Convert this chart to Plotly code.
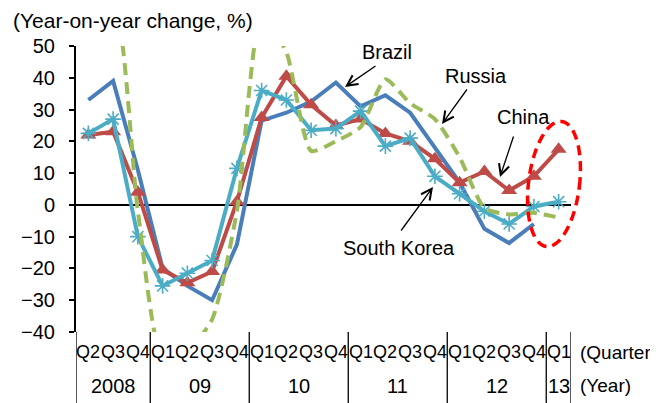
import math
import plotly.graph_objects as go

# ---------------- data ----------------
quarters = ["Q2", "Q3", "Q4",
            "Q1", "Q2", "Q3", "Q4",
            "Q1", "Q2", "Q3", "Q4",
            "Q1", "Q2", "Q3", "Q4",
            "Q1", "Q2", "Q3", "Q4",
            "Q1"]
year_labels = ["2008", "09", "10", "11", "12", "13"]
year_centers = [1, 4.5, 8.5, 12.5, 16.5, 19]
year_dividers = [-0.5, 2.5, 6.5, 10.5, 14.5, 18.5, 19.5]

brazil = [33, 39, 11, -20, -25.5, -30, -12.5, 26.5, 29, 32.5, 38.5,
          31, 34.5, 29, 18, 7, -7.5, -12, -6, None]
china = [22, 23, 4, -20.5, -24.5, -21, 1, 27.5, 40.5, 31.5, 25,
         27, 22.5, 20, 14.5, 7, 10.5, 4.5, 9, 17.5]
south_korea = [22.5, 27, -10, -25.5, -21.5, -17.5, 11.5, 36, 33, 23.5, 24,
               29.5, 18.5, 21, 9, 3.5, -2, -6, -0.5, 1]
russia = [58, 64, -2, -48, -46, -36, -2, 60, 48, 17, 20,
          24.5, 39.5, 32, 27, 15, -1, -3, -2.5, -4]

y_ticks = [-40, -30, -20, -10, 0, 10, 20, 30, 40, 50]

xs = list(range(len(quarters)))
FONT = "Liberation Sans, Arial, sans-serif"

fig = go.Figure()
fig.add_trace(go.Scatter(x=xs, y=brazil, mode="lines", name="Brazil",
                         line=dict(color="#4A7EBB", width=4)))
fig.add_trace(go.Scatter(x=xs, y=china, mode="lines+markers", name="China",
                         line=dict(color="#BE4B48", width=4),
                         marker=dict(symbol="triangle-up", size=14, color="#BE4B48")))
fig.add_trace(go.Scatter(x=xs, y=south_korea, mode="lines+markers", name="South Korea",
                         line=dict(color="#4BACC6", width=4),
                         marker=dict(symbol="asterisk-open", size=13,
                                     line=dict(color="#4BACC6", width=1.6))))
fig.add_trace(go.Scatter(x=xs, y=russia, mode="lines", name="Russia",
                         line=dict(color="#9BBB59", width=4, dash="12px,7px",
                                   shape="spline", smoothing=0.6)))

# The page body adds an 8px offset; compensate so the figure lands at the
# same window positions as the reference.
OFF = 8
W, H = 658 - OFF, 403 - OFF
L, R, T, B = 76 - OFF, 87, 46 - OFF, 71
PW, PH = W - L - R, H - T - B


def px(xp):  # reference window pixel -> paper x
    return (xp - OFF - L) / PW


def py(yp):  # reference window pixel -> paper y
    return 1 - (yp - OFF - T) / PH


shapes = []
for d in year_dividers:
    shapes.append(dict(type="line", xref="x", yref="paper", x0=d, x1=d,
                       y0=0, y1=-0.3, line=dict(color="black", width=1.3)))

# dashed red ellipse around latest quarter
cx, cy, a, b, th = 554, 184, 63, 25.5, math.radians(7)
pts = []
for i in range(73):
    t = 2 * math.pi * i / 72
    u, v = b * math.cos(t), a * math.sin(t)
    X = cx + u * math.cos(th) + v * math.sin(th)
    Y = cy + u * math.sin(th) - v * math.cos(th)
    pts.append((px(X), py(Y)))
path = "M " + " L ".join(f"{p[0]:.4f},{p[1]:.4f}" for p in pts) + " Z"
shapes.append(dict(type="path", xref="paper", yref="paper", path=path,
                   line=dict(color="#FF0000", width=3.5, dash="10px,6px")))

annotations = []
for x, q in zip(xs, quarters):
    annotations.append(dict(x=x, y=py(352), xref="x", yref="paper", text=q,
                            showarrow=False, font=dict(size=18, color="black", family=FONT),
                            xanchor="center", yanchor="middle"))
for x, yl in zip(year_centers, year_labels):
    annotations.append(dict(x=x, y=py(386), xref="x", yref="paper", text=yl,
                            showarrow=False, font=dict(size=20, color="black", family=FONT),
                            xanchor="center", yanchor="middle"))
annotations.append(dict(x=px(578), y=py(352), xref="paper", yref="paper", text="(Quarter)",
                        showarrow=False, xanchor="left", yanchor="middle",
                        font=dict(size=19, color="black", family=FONT)))
annotations.append(dict(x=px(578), y=py(385), xref="paper", yref="paper", text="(Year)",
                        showarrow=False, xanchor="left", yanchor="middle",
                        font=dict(size=19, color="black", family=FONT)))
annotations.append(dict(x=px(11), y=py(20), xref="paper", yref="paper",
                        text="(Year-on-year change, %)", showarrow=False,
                        xanchor="left", yanchor="middle",
                        font=dict(size=21, color="black", family=FONT)))

labels = [("Brazil", 387, 52), ("Russia", 476, 76), ("China", 523, 117),
          ("South Korea", 399, 248)]
for txt, xp, yp in labels:
    annotations.append(dict(x=px(xp), y=py(yp), xref="paper", yref="paper", text=txt,
                            showarrow=False, xanchor="center", yanchor="middle",
                            font=dict(size=20, color="black", family=FONT)))

arrows = [((345, 87), (377, 65)), ((442, 124), (468, 88)),
          ((500, 177), (514, 135)), ((433, 187), (400, 232))]
for (hx, hy), (tx, ty) in arrows:
    annotations.append(dict(x=px(hx), y=py(hy), xref="paper", yref="paper", text="",
                            showarrow=True, arrowhead=5, arrowsize=1.6, arrowwidth=1.3,
                            arrowcolor="black", ax=tx - hx, ay=ty - hy,
                            axref="pixel", ayref="pixel"))

fig.update_layout(
    width=W, height=H,
    margin=dict(l=L, r=R, t=T, b=B),
    plot_bgcolor="white", paper_bgcolor="white",
    showlegend=False,
    font=dict(family=FONT, size=20, color="black"),
    shapes=shapes, annotations=annotations,
    xaxis=dict(range=[-0.5, 19.5], showgrid=False, zeroline=False,
               showline=False, showticklabels=False, ticks="", fixedrange=True),
    yaxis=dict(range=[-40, 50], tickvals=y_ticks, showgrid=False,
               zeroline=True, zerolinecolor="black", zerolinewidth=2,
               showline=True, linecolor="black", linewidth=2,
               ticks="outside", ticklen=5, tickwidth=1.5, tickcolor="black",
               ticklabelstandoff=10,
               tickfont=dict(size=20, color="black", family=FONT)),
)

fig.write_html("out.html")
